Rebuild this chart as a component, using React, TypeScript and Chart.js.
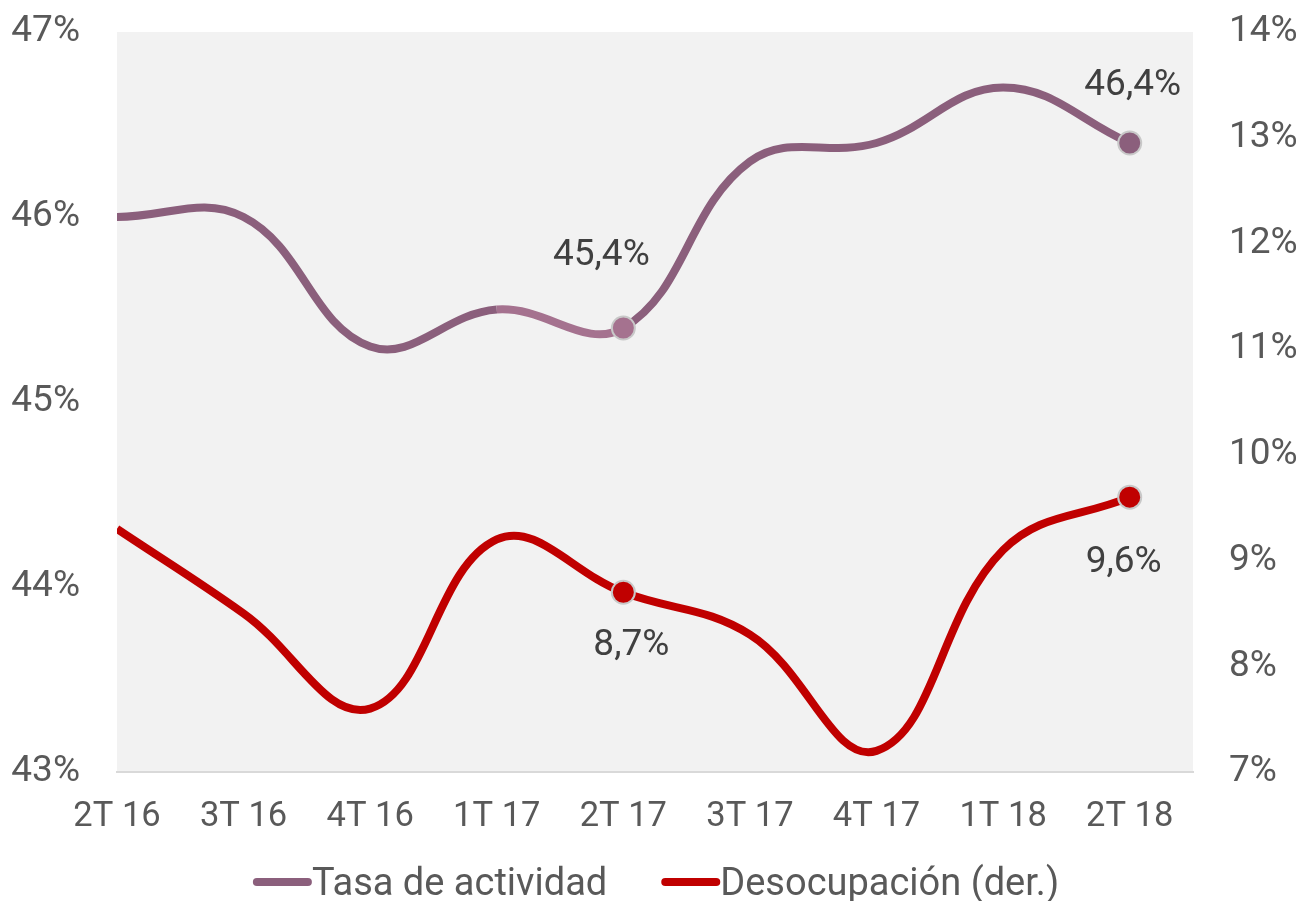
import React, { useEffect, useRef } from 'react';
import { Chart, registerables } from 'chart.js';

Chart.register(...registerables);

// ---- Data ----
const categories = ['2T 16', '3T 16', '4T 16', '1T 17', '2T 17', '3T 17', '4T 17', '1T 18', '2T 18'];
const tasaActividad = [46.0, 46.0, 45.3, 45.5, 45.4, 46.3, 46.4, 46.7, 46.4];
const desocupacion = [9.3, 8.5, 7.6, 9.2, 8.7, 8.3, 7.2, 9.1, 9.6];
const leftTicks = [43, 44, 45, 46, 47];
const rightTicks = [7, 8, 9, 10, 11, 12, 13, 14];
const seriesNames = ['Tasa de actividad', 'Desocupación (der.)'];
const labeledIndices = [4, 8];

// ---- Styles ----
const PURPLE = '#8B5F7C';
const PURPLE_LIGHT = '#A5728F';
const RED = '#C00000';
const TICK_COLOR = '#595959';
const LABEL_COLOR = '#404040';
const PLOT_BG = '#F2F2F2';
const FONT = 'Roboto';

// label offsets (px) relative to the point, per dataset, per index
const labelOffsets: Record<number, Record<number, [number, number]>> = {
  0: { 4: [-22, -72], 8: [3, -57] },
  1: { 4: [8, 53], 8: [-6, 66] },
};

const fmt = (v: number) => v.toFixed(1).replace('.', ',') + '%';

const bgPlugin = {
  id: 'plotBg',
  beforeDraw(chart: any) {
    const { ctx, chartArea } = chart;
    ctx.save();
    ctx.fillStyle = PLOT_BG;
    ctx.fillRect(chartArea.left, chartArea.top, chartArea.right - chartArea.left, chartArea.bottom - chartArea.top);
    ctx.restore();
  },
};

const dataLabelPlugin = {
  id: 'dataLabels',
  afterDatasetsDraw(chart: any) {
    const { ctx } = chart;
    ctx.save();
    ctx.font = `37px ${FONT}`;
    ctx.fillStyle = LABEL_COLOR;
    ctx.textAlign = 'center';
    ctx.textBaseline = 'middle';
    chart.data.datasets.forEach((ds: any, di: number) => {
      const meta = chart.getDatasetMeta(di);
      labeledIndices.forEach((i) => {
        const el = meta.data[i];
        const off = labelOffsets[di][i];
        ctx.fillText(fmt(ds.data[i].y), el.x + off[0], el.y + off[1]);
      });
    });
    ctx.restore();
  },
};

const legendPlugin = {
  id: 'customLegend',
  afterDraw(chart: any) {
    const { ctx } = chart;
    const colors = [PURPLE, RED];
    const y = 882;
    const lineLen = 59;
    const gap = 0;
    const spacing = 54;
    ctx.save();
    ctx.font = `38px ${FONT}`;
    const widths = seriesNames.map((n) => ctx.measureText(n).width);
    const total = widths.reduce((a, w) => a + lineLen + gap + w, 0) + spacing * (seriesNames.length - 1);
    let x = 656 - total / 2;
    seriesNames.forEach((name, i) => {
      ctx.strokeStyle = colors[i];
      ctx.lineWidth = 8;
      ctx.lineCap = 'round';
      ctx.beginPath();
      ctx.moveTo(x + 4, y);
      ctx.lineTo(x + lineLen - 4, y);
      ctx.stroke();
      ctx.fillStyle = TICK_COLOR;
      ctx.textAlign = 'left';
      ctx.textBaseline = 'middle';
      ctx.fillText(name, x + lineLen + gap, y + 3);
      x += lineLen + gap + widths[i] + spacing;
    });
    ctx.restore();
  },
};

const fixVerticalPadding = (scale: any, width: number) => {
  scale.width = width;
  scale.paddingTop = 20;
  scale.paddingBottom = 20;
};

export default function App() {
  const canvasRef = useRef<HTMLCanvasElement | null>(null);

  useEffect(() => {
    if (!canvasRef.current) return;
    const purpleData = categories.map((_, i) => ({ x: i, y: tasaActividad[i] }));
    const redData = categories.map((_, i) => ({ x: i, y: desocupacion[i] }));
    const radii = categories.map((_, i) => (labeledIndices.includes(i) ? 11.5 : 0));

    const chart = new Chart(canvasRef.current, {
      type: 'line',
      data: {
        datasets: [
          {
            label: seriesNames[0],
            data: purpleData,
            yAxisID: 'yLeft',
            borderColor: PURPLE,
            borderWidth: 8,
            tension: 0.4,
            pointRadius: radii,
            pointHoverRadius: radii,
            pointBackgroundColor: categories.map((_, i) => (i === 4 ? PURPLE_LIGHT : PURPLE)),
            pointBorderColor: '#C8C8C8',
            pointBorderWidth: 2,
            segment: {
              borderColor: (c: any) => (c.p0DataIndex === 3 ? PURPLE_LIGHT : PURPLE),
            },
          },
          {
            label: seriesNames[1],
            data: redData,
            yAxisID: 'yRight',
            borderColor: RED,
            borderWidth: 8,
            tension: 0.4,
            pointRadius: radii,
            pointHoverRadius: radii,
            pointBackgroundColor: RED,
            pointBorderColor: '#C8C8C8',
            pointBorderWidth: 2,
          },
        ],
      },
      options: {
        responsive: false,
        animation: false,
        layout: { padding: { top: 32, bottom: 70, left: 0, right: 0 } },
        plugins: {
          legend: { display: false },
          tooltip: { enabled: false },
        },
        scales: {
          x: {
            type: 'linear',
            min: 0,
            max: 8.5,
            afterBuildTicks: (scale: any) => {
              scale.ticks = categories.map((_, i) => ({ value: i }));
            },
            afterFit: (scale: any) => {
              scale.height = 59;
            },
            grid: { display: false, drawTicks: false },
            border: { display: true, color: '#D9D9D9', width: 2 },
            ticks: {
              autoSkip: false,
              maxRotation: 0,
              padding: 25,
              color: TICK_COLOR,
              font: { family: FONT, size: 34.5 },
              callback: (v: any) => categories[v] ?? '',
            },
          },
          yLeft: {
            type: 'linear',
            position: 'left',
            min: 43,
            max: 47,
            afterBuildTicks: (scale: any) => {
              scale.ticks = leftTicks.map((v) => ({ value: v }));
            },
            afterFit: (scale: any) => fixVerticalPadding(scale, 117),
            grid: { display: false, drawTicks: false },
            border: { display: false },
            ticks: {
              padding: 37,
              color: TICK_COLOR,
              font: { family: FONT, size: 37 },
              callback: (v: any) => `${v}%`,
            },
          },
          yRight: {
            type: 'linear',
            position: 'right',
            min: 7,
            max: 14,
            afterBuildTicks: (scale: any) => {
              scale.ticks = rightTicks.map((v) => ({ value: v }));
            },
            afterFit: (scale: any) => fixVerticalPadding(scale, 108),
            grid: { display: false, drawTicks: false },
            border: { display: false },
            ticks: {
              padding: 36,
              color: TICK_COLOR,
              font: { family: FONT, size: 37 },
              callback: (v: any) => `${v}%`,
            },
          },
        },
      },
      plugins: [bgPlugin, dataLabelPlugin, legendPlugin],
    });
    return () => chart.destroy();
  }, []);

  return (
    <div style={{ position: 'fixed', left: 0, top: 0, width: 1301, height: 901, background: '#fff' }}>
      <canvas ref={canvasRef} width={1301} height={901} style={{ display: 'block' }} />
    </div>
  );
}
